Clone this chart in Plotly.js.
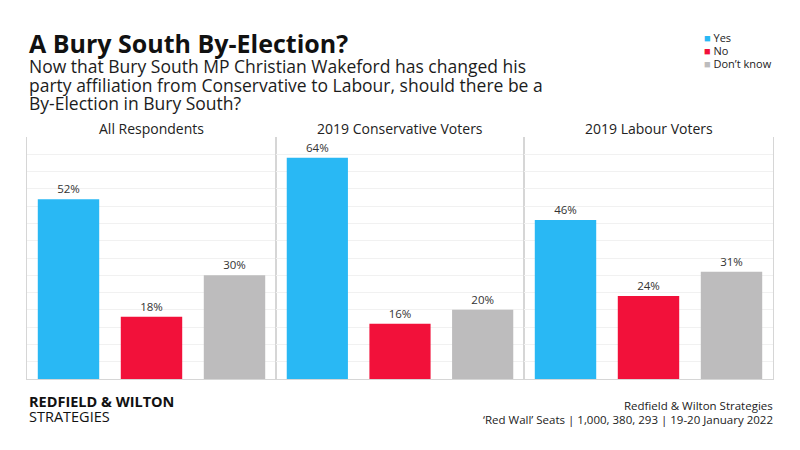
<!DOCTYPE html>
<html>
<head>
<meta charset="utf-8">
<script src="https://cdn.plot.ly/plotly-3.0.1.min.js"></script>
<style>
  html, body { margin: 0; padding: 0; background: #fff; }
  #chart { width: 800px; height: 450px; }
</style>
</head>
<body>
<div id="chart"></div>
<script>
const panels = ['All Respondents', '2019 Conservative Voters', '2019 Labour Voters'];
const answers = ['Yes', 'No', 'Don’t know'];
const yes = [52, 64, 46];
const no = [18, 16, 24];
const dontKnow = [30, 20, 31];
const subtitleLines = [
  'Now that Bury South MP Christian Wakeford has changed his',
  'party affiliation from Conservative to Labour, should there be a',
  'By-Election in Bury South?',
];

const COLORS = { 'Yes': '#29b8f4', 'No': '#f2113a', 'Don’t know': '#bdbcbd' };
const FONT = 'Open Sans, Lato, sans-serif';

// panel pixel edges: 27 | 276 | 524 | 773
const XDOMAINS = [[27 / 800, 276 / 800], [276 / 800, 524 / 800], [524 / 800, 773 / 800]];
const YDOMAIN = [(450 - 379) / 450, (450 - 137) / 450];
const py = px => 1 - px / 450;

const seriesValues = { 'Yes': yes, 'No': no, 'Don’t know': dontKnow };

const traces = [];
panels.forEach((panel, p) => {
  answers.forEach(ans => {
    traces.push({
      type: 'bar',
      name: ans,
      x: [ans],
      y: [seriesValues[ans][p]],
      xaxis: p === 0 ? 'x' : 'x' + (p + 1),
      yaxis: p === 0 ? 'y' : 'y' + (p + 1),
      marker: { color: COLORS[ans] },
      texttemplate: '%{y}%',
      textposition: 'outside',
      textfont: { size: 11.5, color: '#333', family: FONT },
      cliponaxis: false,
      showlegend: false,
      hoverinfo: 'skip',
    });
  });
});

const annotations = [
  { text: '<b>A Bury South By-Election?</b>', x: 27 / 800, y: py(24), xanchor: 'left', yanchor: 'top', font: { size: 25, color: '#111' } },
  { text: '<b>REDFIELD & WILTON</b>', x: 27 / 800, y: py(401), xanchor: 'left', yanchor: 'middle', font: { size: 14.5, color: '#111' } },
  { text: 'STRATEGIES', x: 27 / 800, y: py(416), xanchor: 'left', yanchor: 'middle', font: { size: 14.5, color: '#111' } },
  { text: 'Redfield & Wilton Strategies', x: 775 / 800, y: py(405), xanchor: 'right', yanchor: 'middle', font: { size: 11.5, color: '#222' } },
  { text: '‘Red Wall’ Seats | 1,000, 380, 293 | 19-20 January 2022', x: 775 / 800, y: py(419), xanchor: 'right', yanchor: 'middle', font: { size: 11.5, color: '#222' } },
];
subtitleLines.forEach((line, i) => {
  annotations.push({ text: line, x: 27 / 800, y: py(66 + i * 18.5), xanchor: 'left', yanchor: 'middle', font: { size: 17.5, color: '#1c1c1c' } });
});
// legend drawn as text rows
answers.forEach((ans, i) => {
  annotations.push({
    text: '<span style="color:' + COLORS[ans] + '">■</span> ' + ans,
    x: 702 / 800, y: py(38 + i * 12.5), xanchor: 'left', yanchor: 'middle',
    font: { size: 11, color: '#222' },
  });
});

const layout = {
  width: 800,
  height: 450,
  paper_bgcolor: '#fff',
  plot_bgcolor: '#fff',
  font: { family: FONT, color: '#222' },
  margin: { l: 0, r: 0, t: 0, b: 0 },
  barmode: 'overlay',
  bargap: 0.26,
  showlegend: false,
  annotations: annotations.map(a => Object.assign({ xref: 'paper', yref: 'paper', showarrow: false, align: 'left' }, a)),
};

panels.forEach((panel, p) => {
  const sx = p === 0 ? '' : String(p + 1);
  layout['xaxis' + sx] = {
    domain: XDOMAINS[p],
    anchor: 'y' + sx,
    type: 'category',
    categoryorder: 'array',
    categoryarray: answers,
    showticklabels: false,
    ticks: '',
    showgrid: false,
    zeroline: false,
    showline: true,
    linecolor: '#d6d6d6',
    linewidth: 1,
    fixedrange: true,
  };
  layout['yaxis' + sx] = {
    domain: YDOMAIN,
    anchor: 'x' + sx,
    range: [0, 70],
    dtick: 5,
    showticklabels: false,
    ticks: '',
    showgrid: true,
    gridcolor: '#f1f1f1',
    gridwidth: 1,
    zeroline: false,
    showline: true,
    mirror: true,
    linecolor: '#d6d6d6',
    linewidth: 1,
    fixedrange: true,
  };
  layout.annotations.push({
    text: panel,
    xref: 'x' + sx + ' domain', yref: 'paper',
    x: 0.5, y: py(128), xanchor: 'center', yanchor: 'middle',
    showarrow: false,
    font: { size: 14, color: '#222', family: FONT },
  });
});

Plotly.newPlot('chart', traces, layout, { displayModeBar: false, staticPlot: true });
</script>
</body>
</html>
